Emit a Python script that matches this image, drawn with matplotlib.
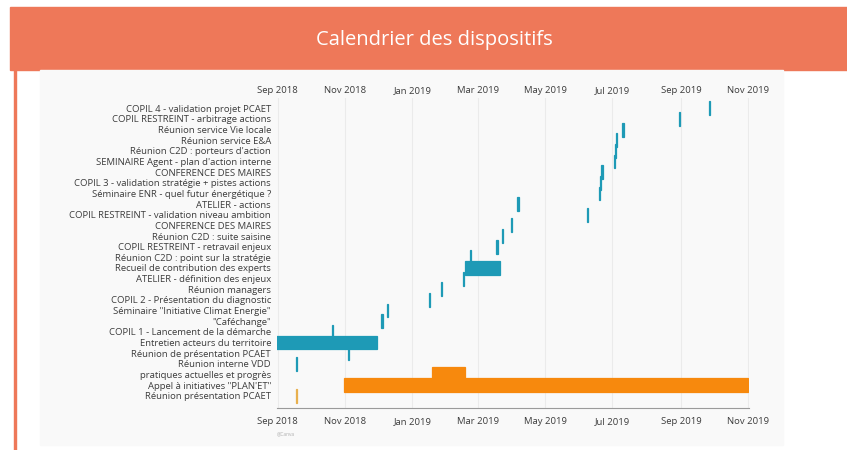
import matplotlib
matplotlib.use("Agg")
import matplotlib.pyplot as plt
import matplotlib.dates as mdates
from matplotlib.patches import Rectangle
import pandas as pd

plt.rcParams["font.family"] = ["Open Sans", "DejaVu Sans"]

TITLE = "Calendrier des dispositifs"

# one row per item, top to bottom
tasks = [
    "COPIL 4 - validation projet PCAET",
    "COPIL RESTREINT - arbitrage actions",
    "Réunion service Vie locale",
    "Réunion service E&A",
    "Réunion C2D : porteurs d'action",
    "SEMINAIRE Agent - plan d'action interne",
    "CONFERENCE DES MAIRES",
    "COPIL 3 - validation stratégie + pistes actions",
    "Séminaire ENR - quel futur énergétique ?",
    "ATELIER - actions",
    "COPIL RESTREINT - validation niveau ambition",
    "CONFERENCE DES MAIRES",
    "Réunion C2D : suite saisine",
    "COPIL RESTREINT - retravail enjeux",
    "Réunion C2D : point sur la stratégie",
    "Recueil de contribution des experts",
    "ATELIER - définition des enjeux",
    "Réunion managers",
    "COPIL 2 - Présentation du diagnostic",
    "Séminaire \"Initiative Climat Energie\"",
    "\"Caféchange\"",
    "COPIL 1 - Lancement de la démarche",
    "Entretien acteurs du territoire",
    "Réunion de présentation PCAET",
    "Réunion interne VDD",
    "pratiques actuelles et progrès",
    "Appel à initiatives \"PLAN'ET\"",
    "Réunion présentation PCAET",
]

starts = [
    "2019-09-26", "2019-08-30", "2019-07-10", "2019-07-04", "2019-07-03",
    "2019-07-02", "2019-06-21", "2019-06-20", "2019-06-19", "2019-04-06",
    "2019-06-08", "2019-03-31", "2019-03-23", "2019-03-18", "2019-02-22",
    "2019-02-18", "2019-02-16", "2019-01-27", "2019-01-16", "2018-12-09",
    "2018-12-04", "2018-10-20", "2018-08-31", "2018-11-04", "2018-09-18",
    "2019-01-19", "2018-10-31", "2018-09-18",
]

# same as start for one-day events
ends = [
    "2019-09-26", "2019-08-30", "2019-07-10", "2019-07-04", "2019-07-03",
    "2019-07-02", "2019-06-21", "2019-06-20", "2019-06-19", "2019-04-06",
    "2019-06-08", "2019-03-31", "2019-03-23", "2019-03-18", "2019-02-22",
    "2019-03-20", "2019-02-16", "2019-01-27", "2019-01-16", "2018-12-09",
    "2018-12-04", "2018-10-20", "2018-11-29", "2018-11-04", "2018-09-18",
    "2019-02-17", "2019-10-31", "2018-09-18",
]

groups = ["concertation"] * 25 + ["appel", "appel", "information"]

GROUP_COLORS = {
    "concertation": "#1e9ab6",
    "appel": "#f7890d",
    "information": "#e8b04e",
}
HEADER = "#ee7859"
TEXT = "#3c3c3c"
FS = 6.8

W, H = 847, 450
fig = plt.figure(figsize=(W / 100, H / 100), dpi=100)
fig.patch.set_facecolor("white")

# card: coral header band, left border, greyish screenshot panel
for xy, w, h, c in [((10 / W, 1 - 70 / H), 837 / W, 63 / H, HEADER),
                    ((14 / W, 0), 2 / W, 1 - 70 / H, HEADER),
                    ((40 / W, 5 / H), 743 / W, 1 - 75 / H, "#f9f9f9")]:
    fig.patches.append(Rectangle(xy, w, h, transform=fig.transFigure,
                                 color=c, zorder=-1))
fig.text(434 / W, 1 - 40 / H, TITLE, color="white", fontsize=14.5,
         ha="center", va="center")

ax = fig.add_axes([277 / W, 1 - 408 / H, 472 / W, 310 / H])
ax.set_facecolor("none")

s = pd.to_datetime(starts)
e = pd.to_datetime(ends) + pd.Timedelta(days=1)
left = mdates.date2num(s)
width = mdates.date2num(e) - left
colors = [GROUP_COLORS[g] for g in groups]
ypos = list(range(len(tasks)))

ax.barh(ypos, width, left=left, height=1.3, color=colors,
        edgecolor=colors, linewidth=0.9, zorder=3)

ax.set_yticks(ypos)
ax.set_yticklabels(tasks, fontsize=FS, color=TEXT)
ax.set_ylim(len(tasks) - 1 + 1.16, -0.97)

ax.set_xlim(pd.Timestamp("2018-08-31 12:00"), pd.Timestamp("2019-11-01 12:00"))
locator = mdates.MonthLocator(bymonth=[1, 3, 5, 7, 9, 11])
fmt = mdates.DateFormatter("%b %Y")
ax.xaxis.set_major_locator(locator)
ax.xaxis.set_major_formatter(fmt)
ax.tick_params(axis="x", length=0, labelsize=FS, labelcolor=TEXT, pad=6.5)
ax.tick_params(axis="y", length=0, pad=4.3)

# same months repeated above the chart
top = ax.secondary_xaxis("top")
top.xaxis.set_major_locator(locator)
top.xaxis.set_major_formatter(fmt)
top.tick_params(length=0, labelsize=FS, labelcolor=TEXT, pad=2)
top.spines["top"].set_visible(False)

ax.grid(axis="x", color="#ebebeb", linewidth=0.8, zorder=0)
for side in ("top", "left", "right"):
    ax.spines[side].set_visible(False)
ax.spines["bottom"].set_color("#9a9a9a")
ax.spines["bottom"].set_linewidth(0.8)

ax.text(0.0, -0.075, "@Canva", transform=ax.transAxes, fontsize=3.5,
        color="#b0b0b0", ha="left", va="top")

fig.savefig("out.png", dpi=100, facecolor=fig.get_facecolor())
